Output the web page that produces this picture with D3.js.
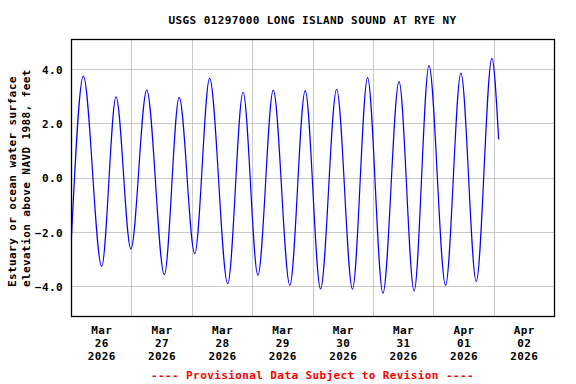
<!DOCTYPE html>
<html>
<head>
<meta charset="utf-8">
<script src="https://cdn.jsdelivr.net/npm/d3@7"></script>
<style>
  body { margin: 0; background: #fff; }
  text { font-family: "DejaVu Sans Mono", monospace; font-weight: bold; font-size: 11px; letter-spacing: 0.4px; }
</style>
</head>
<body>
<div id="chart"></div>
<script>
// tide highs and lows (feet, NAVD 1988)
var tideTimes = [
  "2026-03-26T00:10", "2026-03-26T04:54", "2026-03-26T12:12", "2026-03-26T17:54",
  "2026-03-26T23:48", "2026-03-27T06:06", "2026-03-27T13:06", "2026-03-27T19:00",
  "2026-03-28T01:12", "2026-03-28T07:06", "2026-03-28T14:18", "2026-03-28T20:24",
  "2026-03-29T02:18", "2026-03-29T08:24", "2026-03-29T15:00", "2026-03-29T21:06",
  "2026-03-30T03:12", "2026-03-30T09:36", "2026-03-30T15:54", "2026-03-30T21:54",
  "2026-03-31T04:00", "2026-03-31T10:24", "2026-03-31T16:24", "2026-03-31T22:18",
  "2026-04-01T04:54", "2026-04-01T11:00", "2026-04-01T17:06", "2026-04-01T23:18",
  "2026-04-02T02:00"
];
var tideLevels = [
  -2.25, 3.73, -3.27, 2.97,
  -2.63, 3.22, -3.58, 2.95,
  -2.80, 3.65, -3.91, 3.14,
  -3.60, 3.22, -3.97, 3.20,
  -4.10, 3.25, -4.11, 3.68,
  -4.26, 3.53, -4.18, 4.12,
  -3.97, 3.84, -3.83, 4.39,
  1.40
];

var yTicks = [-4, -2, 0, 2, 4];
var dayGrid = ["2026-03-27", "2026-03-28", "2026-03-29", "2026-03-30", "2026-03-31", "2026-04-01", "2026-04-02"];
var dayLabels = ["Mar 26 2026", "Mar 27 2026", "Mar 28 2026", "Mar 29 2026", "Mar 30 2026", "Mar 31 2026", "Apr 01 2026", "Apr 02 2026"];
var dayLabelTimes = ["2026-03-26T12:00", "2026-03-27T12:00", "2026-03-28T12:00", "2026-03-29T12:00",
  "2026-03-30T12:00", "2026-03-31T12:00", "2026-04-01T12:00", "2026-04-02T12:00"];

var svgWidth = 576, svgHeight = 384;
var margin = { top: 39, right: 22, bottom: 68, left: 71 };
var chartWidth = svgWidth - margin.left - margin.right;
var chartHeight = svgHeight - margin.top - margin.bottom;

var parseTime = d3.timeParse("%Y-%m-%dT%H:%M");
var parseDay = d3.timeParse("%Y-%m-%d");

var data = tideTimes.map(function(t, i) {
  return { date: parseTime(t), level: tideLevels[i] };
});

var svg = d3.select("#chart").append("svg")
  .attr("width", svgWidth)
  .attr("height", svgHeight);

var chartGroup = svg.append("g")
  .attr("transform", `translate(${margin.left}, ${margin.top})`);

var xScale = d3.scaleTime()
  .domain([parseDay("2026-03-26"), parseDay("2026-04-03")])
  .range([0, chartWidth]);

var yScale = d3.scaleLinear()
  .domain([-5.1, 5.1])
  .range([chartHeight, 0]);

// GRID
chartGroup.append("g")
  .selectAll("line.hgrid")
  .data(yTicks)
  .enter()
  .append("line")
  .attr("x1", 0)
  .attr("x2", chartWidth)
  .attr("y1", d => Math.round(yScale(d)) + 0.5)
  .attr("y2", d => Math.round(yScale(d)) + 0.5)
  .attr("stroke", "#c8c8c8");

chartGroup.append("g")
  .selectAll("line.vgrid")
  .data(dayGrid.map(parseDay))
  .enter()
  .append("line")
  .attr("x1", d => Math.round(xScale(d)) + 0.5)
  .attr("x2", d => Math.round(xScale(d)) + 0.5)
  .attr("y1", 0)
  .attr("y2", chartHeight)
  .attr("stroke", "#c8c8c8");

// TIDE LINE
var line = d3.line()
  .x(d => xScale(d.date))
  .y(d => yScale(d.level))
  .curve(d3.curveMonotoneX);

chartGroup.append("path")
  .datum(data)
  .attr("d", line)
  .attr("fill", "none")
  .attr("stroke", "#0000ff")
  .attr("stroke-width", 1.2);

// FRAME
chartGroup.append("rect")
  .attr("x", 0.5)
  .attr("y", 0.5)
  .attr("width", chartWidth)
  .attr("height", chartHeight)
  .attr("fill", "none")
  .attr("stroke", "#000")
  .attr("stroke-width", 1.3);

// Y AXIS
var leftAxis = d3.axisLeft(yScale)
  .tickValues(yTicks)
  .tickSize(0)
  .tickPadding(8)
  .tickFormat(d3.format(".1f"));

var yAxis = chartGroup.append("g").call(leftAxis);
yAxis.select(".domain").remove();
yAxis.selectAll("text")
  .attr("fill", "#000")
  .attr("dy", "0.4em");
yAxis.attr("font-size", null).attr("font-family", null);

// X AXIS
var labelDates = dayLabelTimes.map(parseTime);
var bottomAxis = d3.axisBottom(xScale)
  .tickValues(labelDates)
  .tickSize(0)
  .tickPadding(0)
  .tickFormat((d, i) => dayLabels[i]);

var xAxis = chartGroup.append("g")
  .attr("transform", `translate(0, ${chartHeight})`)
  .call(bottomAxis);
xAxis.select(".domain").remove();
xAxis.attr("font-size", null).attr("font-family", null);
xAxis.selectAll("text").each(function(d, i) {
  var parts = dayLabels[i].split(" ");
  var t = d3.select(this).text(null).attr("fill", "#000").attr("dy", null).attr("y", 0);
  parts.forEach(function(p, j) {
    t.append("tspan")
      .attr("x", 0)
      .attr("y", 18 + j * 13)
      .text(p);
  });
});

// TITLES
svg.append("text")
  .attr("x", margin.left + chartWidth / 2)
  .attr("y", 24)
  .attr("text-anchor", "middle")
  .text("USGS 01297000 LONG ISLAND SOUND AT RYE NY");

svg.append("text")
  .attr("transform", "translate(16, 287) rotate(-90)")
  .text("Estuary or ocean water surface");

svg.append("text")
  .attr("transform", "translate(29.5, 287) rotate(-90)")
  .text("elevation above NAVD 1988, feet");

svg.append("text")
  .attr("x", margin.left + chartWidth / 2)
  .attr("y", 379)
  .attr("text-anchor", "middle")
  .attr("fill", "#ff0000")
  .text("---- Provisional Data Subject to Revision ----");
</script>
</body>
</html>
